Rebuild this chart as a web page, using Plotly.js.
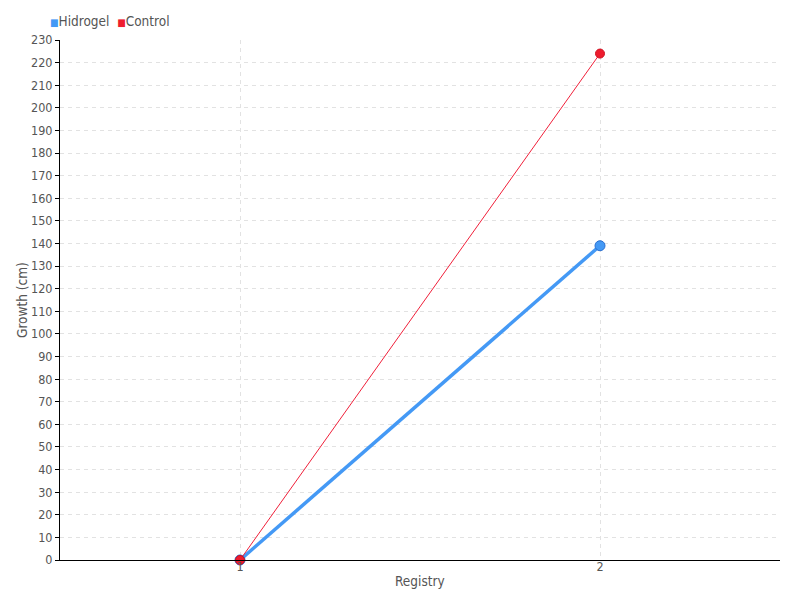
<!DOCTYPE html>
<html><head><meta charset="utf-8">
<script src="https://cdn.plot.ly/plotly-3.0.1.min.js"></script>
<style>body{margin:0}#chart{width:800px;height:600px}</style>
</head><body><div id="chart"></div>
<script>
const registry = [1, 2];
const hidrogel = [0, 139];
const control = [0, 224];
const seriesNames = ['Hidrogel', 'Control'];
const seriesColors = ['#4499f5', '#ee1c2e'];
const yTicks = [];
for (let v = 0; v <= 230; v += 10) yTicks.push(v);

const fam = '"DejaVu Sans Condensed", sans-serif';
const font = {family: fam, size: 12.5, color: '#555'};
const titleFont = {family: fam, size: 13.5, color: '#555'};

const traces = [
  {x: registry, y: hidrogel, name: seriesNames[0], mode: 'lines+markers', cliponaxis: false,
   line: {color: seriesColors[0], width: 3.5}, marker: {size: 10, color: seriesColors[0], line: {color: '#2a6fd0', width: 1}}},
  {x: registry, y: control, name: seriesNames[1], mode: 'lines+markers', cliponaxis: false,
   line: {color: '#f0203a', width: 1}, marker: {size: 9, color: seriesColors[1], line: {color: '#d01020', width: 1}}}
];

const legendText = seriesNames.map((n, i) =>
  '<span style="color:' + seriesColors[i] + ';font-size:10px">■</span>' + n).join('  ');

const layout = {
  width: 800, height: 600,
  margin: {l: 60, r: 20, t: 40, b: 40},
  paper_bgcolor: '#fff', plot_bgcolor: '#fff',
  font: font,
  showlegend: false,
  annotations: [
    {text: legendText, xref: 'paper', yref: 'paper', x: -0.017, y: 1.0 + 19/520, xanchor: 'left', yanchor: 'middle',
     showarrow: false, font: titleFont},
    {text: 'Registry', xref: 'paper', yref: 'paper', x: 0.5, y: -21/520, xanchor: 'center', yanchor: 'middle',
     showarrow: false, font: titleFont},
    {text: 'Growth (cm)', xref: 'paper', yref: 'paper', x: -38/720, y: 0.5, xanchor: 'center', yanchor: 'middle',
     textangle: -90, showarrow: false, font: titleFont}
  ],
  xaxis: {range: [0.5, 2.5], tickvals: registry, ticktext: registry.map(String), ticks: '', ticklabelstandoff: -5,
          showgrid: true, gridcolor: '#e2e2e2', griddash: '4px,4px', zeroline: false,
          showline: true, linecolor: '#000', linewidth: 1},
  yaxis: {range: [0, 230], tickvals: yTicks, ticks: 'outside', ticklen: 4, tickcolor: '#000',
          showgrid: true, gridcolor: '#e2e2e2', griddash: '4px,4px', zeroline: false,
          showline: true, linecolor: '#000', linewidth: 1}
};
Plotly.newPlot('chart', traces, layout, {displayModeBar: false});
</script></body></html>
